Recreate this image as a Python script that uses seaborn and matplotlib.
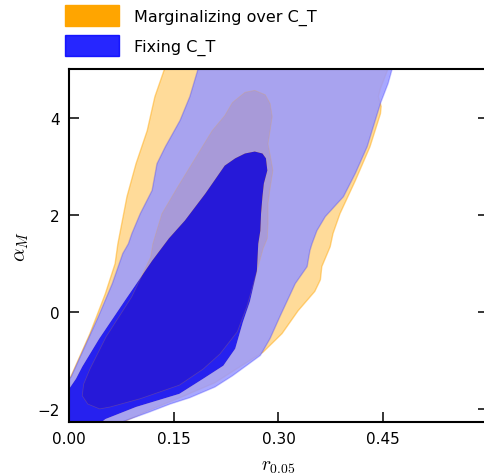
import numpy as np
import matplotlib
matplotlib.use("Agg")
import matplotlib.pyplot as plt
from matplotlib.patches import Patch, PathPatch
from matplotlib.path import Path
import seaborn as sns

# contour outlines (r_0.05, alpha_M)
# Marginalizing over C_T, 95% region
marg95_r = [0.145, 0.137, 0.123, 0.112, 0.096, 0.083, 0.070, 0.066, 0.052, 0.030,
            0.009, 0.000, -0.010, -0.010, 0.065, 0.077, 0.116, 0.162, 0.209, 0.245,
            0.278, 0.305, 0.328, 0.352, 0.360, 0.362, 0.374, 0.378, 0.388, 0.410,
            0.431, 0.446, 0.447, 0.443, 0.446, 0.457, 0.464]
marg95_a = [5.26, 5.01, 4.43, 3.73, 3.05, 2.37, 1.40, 0.99, 0.37, -0.45,
            -1.13, -1.42, -1.60, -2.40, -2.40, -2.27, -2.02, -1.75, -1.46, -1.13,
            -0.83, -0.45, 0.02, 0.42, 0.66, 0.93, 1.34, 1.61, 2.02, 2.70,
            3.40, 4.08, 4.23, 4.43, 4.60, 5.01, 5.26]

# Marginalizing over C_T, 68% region
marg68_r = [0.266, 0.281, 0.288, 0.291, 0.288, 0.285, 0.289, 0.292, 0.288, 0.285,
            0.285, 0.284, 0.278, 0.269, 0.255, 0.241, 0.216, 0.192, 0.158, 0.102,
            0.059, 0.044, 0.027, 0.019, 0.021, 0.030, 0.053, 0.090, 0.117, 0.120,
            0.133, 0.156, 0.185, 0.205, 0.223, 0.234, 0.252]
marg68_a = [4.56, 4.47, 4.29, 4.02, 3.73, 3.46, 3.16, 2.91, 2.54, 2.23,
            1.81, 1.51, 1.30, 0.83, 0.12, -0.41, -0.87, -1.18, -1.51, -1.79,
            -1.96, -2.00, -1.90, -1.73, -1.49, -1.18, -0.52, 0.31, 1.13, 1.40,
            2.02, 2.58, 3.26, 3.73, 4.04, 4.31, 4.52]

# Fixing C_T, 95% region
fix95_r = [0.192, 0.185, 0.173, 0.159, 0.138, 0.126, 0.119, 0.102, 0.090, 0.085,
           0.077, 0.062, 0.042, 0.020, 0.003, 0.000, -0.010, -0.010, 0.065, 0.076,
           0.116, 0.145, 0.173, 0.209, 0.234, 0.256, 0.274, 0.288, 0.302, 0.324,
           0.341, 0.345, 0.348, 0.355, 0.367, 0.393, 0.410, 0.427, 0.434, 0.446,
           0.457, 0.463, 0.470]
fix95_a = [5.26, 5.01, 4.43, 3.94, 3.40, 3.05, 2.50, 2.02, 1.61, 1.40,
           1.20, 0.58, -0.10, -0.80, -1.34, -1.38, -1.50, -2.40, -2.40, -2.27,
           -2.06, -1.90, -1.77, -1.55, -1.32, -1.09, -0.90, -0.55, -0.10, 0.58,
           0.93, 1.26, 1.40, 1.67, 1.96, 2.37, 2.85, 3.40, 3.73, 4.29,
           4.70, 5.01, 5.26]

# Fixing C_T, 68% region
fix68_r = [0.252, 0.266, 0.277, 0.282, 0.284, 0.279, 0.277, 0.275, 0.274, 0.271,
           0.269, 0.259, 0.249, 0.238, 0.221, 0.192, 0.158, 0.096, 0.052, 0.047,
           0.040, -0.010, -0.010, 0.000, 0.010, 0.019, 0.043, 0.080, 0.119, 0.143,
           0.166, 0.195, 0.223, 0.238]
fix68_a = [3.26, 3.30, 3.26, 3.16, 2.91, 2.64, 2.37, 2.02, 1.67, 1.40,
           0.83, 0.21, -0.21, -0.76, -1.11, -1.38, -1.69, -1.96, -2.21, -2.27,
           -2.40, -2.40, -1.60, -1.59, -1.38, -1.13, -0.56, 0.23, 1.05, 1.51,
           1.88, 2.43, 3.01, 3.16]

labels = ["Marginalizing over C_T", "Fixing C_T"]
x_ticks = [0.0, 0.15, 0.30, 0.45]
y_ticks = [-2, 0, 2, 4]


def pale(color, f=0.6):
    rgb = np.array(matplotlib.colors.to_rgb(color))
    return tuple(rgb * (1 - f) + f)


def signed_area(xs, ys):
    xs, ys = np.asarray(xs), np.asarray(ys)
    return 0.5 * np.sum(xs * np.roll(ys, -1) - np.roll(xs, -1) * ys)


def ring(out_r, out_a, in_r, in_a):
    # band between two contour levels (outer region with the inner one cut out)
    outer = np.column_stack([out_r, out_a])
    inner = np.column_stack([in_r, in_a])
    if np.sign(signed_area(out_r, out_a)) == np.sign(signed_area(in_r, in_a)):
        inner = inner[::-1]
    verts = np.vstack([outer, outer[:1], inner, inner[:1]])
    codes = ([Path.MOVETO] + [Path.LINETO] * (len(outer) - 1) + [Path.CLOSEPOLY]
             + [Path.MOVETO] + [Path.LINETO] * (len(inner) - 1) + [Path.CLOSEPOLY])
    return Path(verts, codes)


sns.set_style("ticks")
plt.rcParams["font.family"] = ["DejaVu Sans"]
plt.rcParams["mathtext.fontset"] = "cm"
plt.rcParams["text.color"] = "black"
plt.rcParams["axes.labelcolor"] = "black"

fig = plt.figure(figsize=(4.85, 4.77), dpi=100)
ax = fig.add_axes([69 / 485, 54 / 477, 419 / 485, 353 / 477])

orange = "#FFA500"
blue = "#0000FF"

# first sample: opaque bands
ax.add_patch(PathPatch(ring(marg95_r, marg95_a, marg68_r, marg68_a),
                       facecolor=pale(orange), edgecolor="none", zorder=1))
ax.plot(marg95_r, marg95_a, color=orange, alpha=0.45, lw=1.0, zorder=1.1)
ax.fill(marg68_r, marg68_a, facecolor=orange, edgecolor="none", zorder=1.2)

# second sample: semi-transparent bands on top
ax.add_patch(PathPatch(ring(fix95_r, fix95_a, fix68_r, fix68_a),
                       facecolor=pale(blue), edgecolor="none", alpha=0.85, zorder=2))
ax.plot(fix95_r, fix95_a, color=blue, alpha=0.22, lw=1.0, zorder=2.1)
ax.fill(fix68_r, fix68_a, facecolor=blue, edgecolor="none", alpha=0.85, zorder=2.2)

# faint outline of the inner orange region
ax.fill(marg68_r, marg68_a, facecolor="none", edgecolor=orange, alpha=0.2, lw=0.6, zorder=3)

ax.set_xlim(0, 0.6)
ax.set_ylim(-2.27, 5.0)
ax.set_xticks(x_ticks)
ax.set_xticklabels([f"{t:.2f}" for t in x_ticks])
ax.set_yticks(y_ticks)
ax.set_yticklabels([str(t).replace("-", "\u2212") for t in y_ticks])

ax.tick_params(direction="in", length=7, width=1.1, labelsize=11,
               top=True, right=True, pad=6.5, colors="black")
for s in ax.spines.values():
    s.set_linewidth(1.5)
    s.set_color("black")

ax.set_xlabel(r"$r_{0.05}$", fontsize=14, labelpad=7)
ax.set_ylabel(r"$\alpha_M$", fontsize=15, labelpad=5)

handles = [Patch(facecolor=orange, edgecolor=orange),
           Patch(facecolor=blue, edgecolor=blue, alpha=0.85)]
fig.legend(handles, labels, loc="upper left", bbox_to_anchor=(65 / 485, 1 - 6 / 477),
           frameon=False, fontsize=11.5, handlelength=3.4, handleheight=1.6,
           labelspacing=0.6, handletextpad=0.9, borderpad=0, borderaxespad=0)

fig.savefig("out.png", dpi=100)
